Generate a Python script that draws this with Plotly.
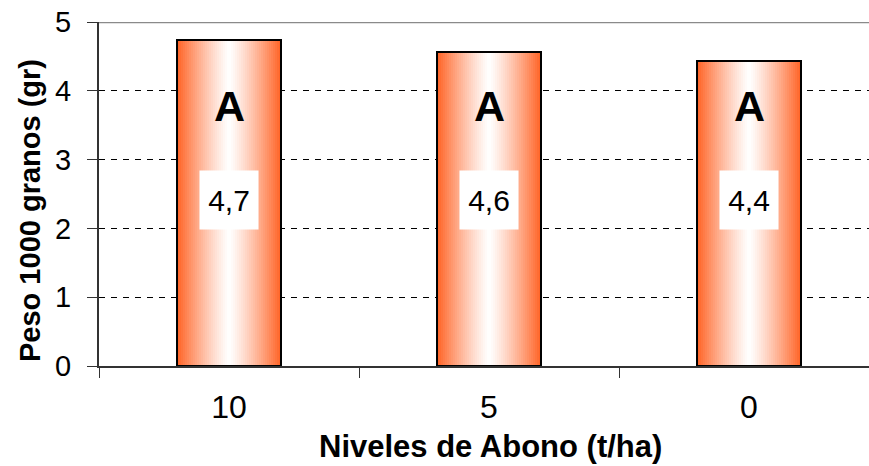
import plotly.graph_objects as go

# ---- data ----
categories = ["10", "5", "0"]
values = [4.74, 4.57, 4.43]
value_labels = ["4,7", "4,6", "4,4"]
group_letters = ["A", "A", "A"]
y_ticks = [0, 1, 2, 3, 4, 5]
x_title = "Niveles de Abono (t/ha)"
y_title = "Peso 1000 granos (gr)"

FONT = "Liberation Sans, Arial, sans-serif"
W, H = 869, 466
ML, MT, MB, MR = 99, 22, 100, 0
plot_w = W - ML - MR
plot_h = H - MT - MB
cat_px = 260.0
x_range = [-0.5, -0.5 + plot_w / cat_px]

fig = go.Figure()

# gradient bars built from thin slices
N = 52
bar_w = 0.4
orange = (255, 98, 36)
white = (255, 255, 255)
slice_w = bar_w / N
for i in range(N):
    t = (i + 0.5) / N
    d = abs(t - 0.5) * 2
    d = d ** 1.2
    col = tuple(round(white[k] * (1 - d) + orange[k] * d) for k in range(3))
    w = slice_w * 1.35 if i < N - 1 else slice_w
    fig.add_trace(go.Bar(
        x=categories, y=values, width=w, offset=-bar_w / 2 + i * slice_w,
        marker=dict(color="rgb(%d,%d,%d)" % col, line=dict(width=0)),
        showlegend=False, hoverinfo="skip",
    ))

# outline
fig.add_trace(go.Bar(
    x=categories, y=values, width=bar_w, offset=-bar_w / 2,
    marker=dict(color="rgba(0,0,0,0)", line=dict(color="black", width=2)),
    showlegend=False, hoverinfo="skip",
))

annotations = []
for idx, (g, lab) in enumerate(zip(group_letters, value_labels)):
    annotations.append(dict(
        x=idx, y=3.78, xref="x", yref="y", text="<b>%s</b>" % g, showarrow=False,
        font=dict(family=FONT, size=43, color="black"),
    ))
    annotations.append(dict(
        x=idx, y=2.41, xref="x", yref="y", text=lab, showarrow=False,
        font=dict(family=FONT, size=30, color="black"),
        bgcolor="white", width=58, height=58, borderpad=0,
    ))

# axis titles
annotations.append(dict(
    x=(490 - ML) / plot_w, y=-(446 - (H - MB)) / plot_h, xref="paper", yref="paper",
    text="<b>%s</b>" % x_title, showarrow=False, xanchor="center", yanchor="middle",
    font=dict(family=FONT, size=31, color="black"),
))
annotations.append(dict(
    x=(30 - ML) / plot_w, y=((H - MB) - 211) / plot_h, xref="paper", yref="paper",
    text="<b>%s</b>" % y_title, showarrow=False, textangle=-90,
    xanchor="center", yanchor="middle",
    font=dict(family=FONT, size=29, color="black"),
))

fig.update_layout(
    width=W, height=H,
    margin=dict(l=ML, r=MR, t=MT, b=MB, pad=0),
    paper_bgcolor="white", plot_bgcolor="white",
    barmode="overlay", bargap=0,
    showlegend=False,
    annotations=annotations,
    shapes=[dict(type="line", xref="paper", yref="y", x0=0, x1=1, y0=5, y1=5,
                 line=dict(color="#8a8a8a", width=2.5))],
    xaxis=dict(
        type="category", range=x_range, tickson="boundaries",
        ticks="outside", ticklen=10, tickcolor="#333", tickwidth=1,
        showline=True, linecolor="#333", linewidth=2, showgrid=False,
        tickfont=dict(family=FONT, size=32, color="black"),
        ticklabelstandoff=12, automargin=False,
    ),
    yaxis=dict(
        range=[0, 5], tickvals=y_ticks, ticks="outside", ticklen=10,
        tickcolor="#333", tickwidth=1,
        showline=True, linecolor="#333", linewidth=2,
        showgrid=True, gridcolor="black", gridwidth=1, griddash="6px,6px",
        zeroline=False,
        tickfont=dict(family=FONT, size=29, color="black"),
        ticklabelstandoff=10, automargin=False,
    ),
)

fig.write_html(
    "out.html",
    config={"displayModeBar": False},
    post_script="document.body.style.margin='0px';document.body.style.overflow='hidden';",
)
